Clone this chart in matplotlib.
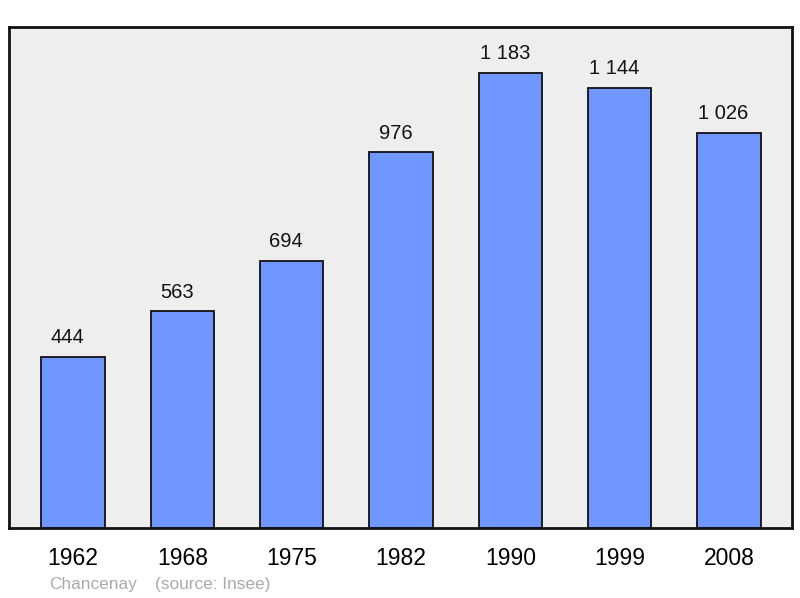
import matplotlib
matplotlib.use("Agg")
import matplotlib.pyplot as plt
import numpy as np

years = ["1962", "1968", "1975", "1982", "1990", "1999", "2008"]
population = [444, 563, 694, 976, 1183, 1144, 1026]
value_labels = ["444", "563", "694", "976", "1 183", "1 144", "1 026"]

plt.rcParams["font.family"] = ["Liberation Sans", "DejaVu Sans"]

fig = plt.figure(figsize=(8, 5.98), dpi=100)
ax = fig.add_axes([9 / 800, 1 - 528 / 598, 783 / 800, 501 / 598])
ax.set_facecolor("#eeeeee")

x = np.arange(len(years))
ax.bar(x, population, width=0.58, color="#7096ff", edgecolor="#111111", linewidth=1.3)

ymax = max(population) * 1.1
ax.set_ylim(0, ymax)
ax.set_xlim(-0.585, len(years) - 1 + 0.575)

# les étiquettes de valeur sont un peu décalées vers la gauche dans l'original
for xi, val, lab in zip(x, population, value_labels):
    ax.annotate(lab, (xi, val), xytext=(-4, 7), textcoords="offset points",
                ha="center", va="bottom", fontsize=14.5, color="#111111")

for s in ax.spines.values():
    s.set_linewidth(2)
    s.set_color("#111111")
ax.set_yticks([])
ax.set_xticks(x)
ax.set_xticklabels(years, fontsize=16.5)
ax.tick_params(axis="x", length=0, pad=14)

fig.text(49 / 800, 1 - 584 / 598, "Chancenay", fontsize=12.4, color="#aaaaaa", va="center")
fig.text(155 / 800, 1 - 584 / 598, "(source: Insee)", fontsize=12.4, color="#aaaaaa", va="center")

fig.savefig("out.png", dpi=100)
